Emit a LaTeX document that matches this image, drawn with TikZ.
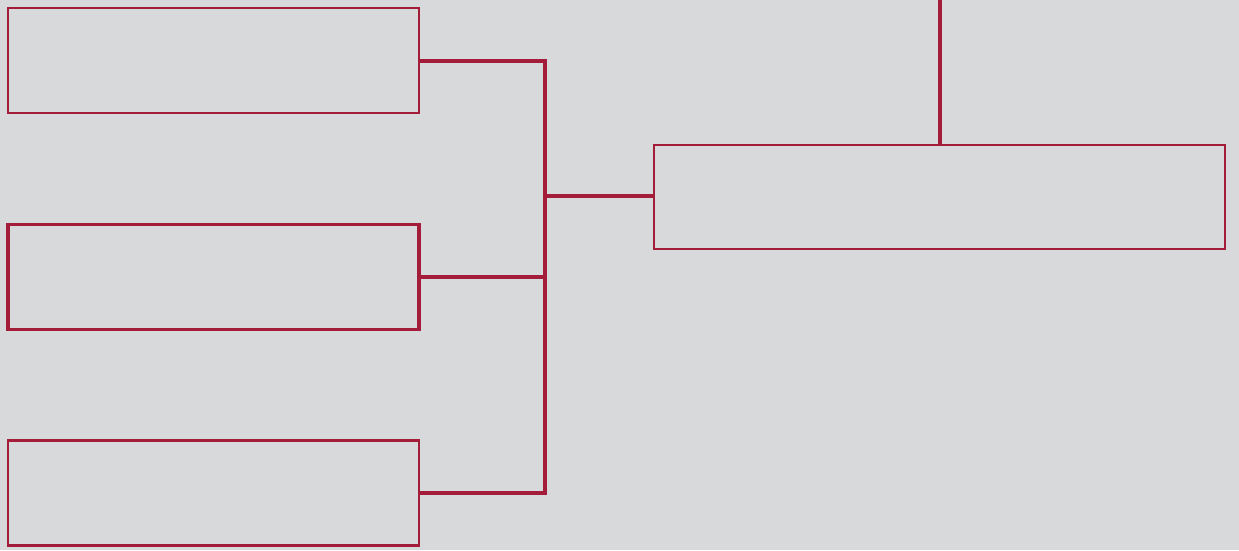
\documentclass[tikz,border=0pt]{standalone}
\definecolor{paper}{HTML}{D8D9DA}
\definecolor{wine}{HTML}{A31D3B}
\begin{document}
\begin{tikzpicture}[x=1pt,y=-1pt,
  slot/.style={draw=wine,line width=2.5pt,rectangle,inner sep=0pt,
    minimum width=411pt,minimum height=105pt},
  bold slot/.style={slot,line width=3.5pt},
  link/.style={draw=wine,line width=4pt,line cap=rect}]
\fill[paper] (0,0) rectangle (1239,550);
\useasboundingbox (0,0) rectangle (1239,550);
\node[slot] (b1) at (213.5,60.5) {};
\node[bold slot] (b2) at (213.5,277) {};
\node[slot] (b3) at (213.5,493) {};
\node[slot,minimum width=571pt,minimum height=104pt] (r) at (939.5,197) {};
\coordinate (j) at (545,196);
\coordinate (top) at (939.5,0);
\draw[link] (b1.east) -| (j);
\draw[link] (b3.east) -| (j);
\draw[link] (j) -- (j -| r.west);
\draw[link] (b2.east) -- (b2.east -| j);
\draw[link] (top) -- (r.north);
\end{tikzpicture}
\end{document}
